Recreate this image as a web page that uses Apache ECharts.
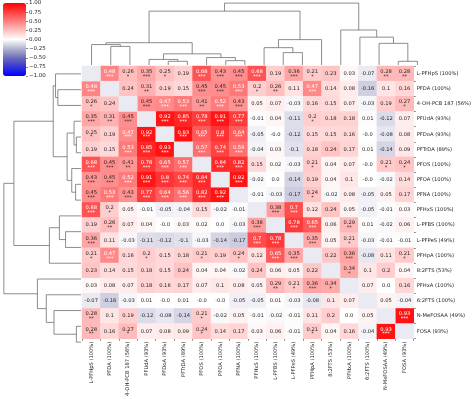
<!DOCTYPE html>
<html><head><meta charset="utf-8">
<script src="https://cdn.jsdelivr.net/npm/echarts@6/dist/echarts.min.js"></script>
<style>html,body{margin:0;padding:0;background:#fff}#c{width:474px;height:399px}</style>
</head><body><div id="c"></div>
<script>
const rowLabels = ['L-PFHpS (100%)','PFDA (100%)','4-OH-PCB 187 (56%)','PFUdA (93%)','PFDoA (93%)','PFTrDA (89%)','PFOS (100%)','PFOA (100%)','PFNA (100%)','PFHxS (100%)','L-PFBS (100%)','L-PFPeS (49%)','PFHpA (100%)','8:2FTS (53%)','PFHxA (100%)','6:2FTS (100%)','N-MeFOSAA (49%)','FOSA (93%)'];
const colLabels = rowLabels.slice();
const colorbarTicks = [-1,-0.75,-0.5,-0.25,0,0.25,0.5,0.75,1];

const rLPFHpS  = [null,0.48,0.26,0.35,0.25,0.19,0.68,0.43,0.45,0.68,0.19,0.36,0.21,0.23,0.03,-0.07,0.28,0.28];
const rPFDA    = [0.48,null,0.24,0.31,0.19,0.15,0.45,0.45,0.53,0.2,0.26,0.11,0.47,0.14,0.08,-0.16,0.1,0.16];
const rOHPCB   = [0.26,0.24,null,0.45,0.47,0.53,0.41,0.52,0.43,0.05,0.07,-0.03,0.16,0.15,0.07,-0.03,0.19,0.27];
const rPFUdA   = [0.35,0.31,0.45,null,0.92,0.85,0.78,0.91,0.77,-0.01,0.04,-0.11,0.2,0.18,0.18,0.01,-0.12,0.07];
const rPFDoA   = [0.25,0.19,0.47,0.92,null,0.93,0.65,0.8,0.64,-0.05,-0.0,-0.12,0.15,0.15,0.16,-0.0,-0.08,0.08];
const rPFTrDA  = [0.19,0.15,0.53,0.85,0.93,null,0.57,0.74,0.56,-0.04,0.03,-0.1,0.18,0.24,0.17,0.01,-0.14,0.09];
const rPFOS    = [0.68,0.45,0.41,0.78,0.65,0.57,null,0.84,0.82,0.15,0.02,-0.03,0.21,0.04,0.07,-0.0,0.21,0.24];
const rPFOA    = [0.43,0.45,0.52,0.91,0.8,0.74,0.84,null,0.92,-0.02,0.0,-0.14,0.19,0.04,0.1,-0.0,-0.02,0.14];
const rPFNA    = [0.45,0.53,0.43,0.77,0.64,0.56,0.82,0.92,null,-0.01,-0.03,-0.17,0.24,-0.02,0.08,-0.05,0.05,0.17];
const rPFHxS   = [0.68,0.2,0.05,-0.01,-0.05,-0.04,0.15,-0.02,-0.01,null,0.38,0.7,0.12,0.24,0.05,-0.05,-0.01,0.03];
const rLPFBS   = [0.19,0.26,0.07,0.04,-0.0,0.03,0.02,0.0,-0.03,0.38,null,0.78,0.65,0.06,0.29,0.01,-0.02,0.06];
const rLPFPeS  = [0.36,0.11,-0.03,-0.11,-0.12,-0.1,-0.03,-0.14,-0.17,0.7,0.78,null,0.35,0.05,0.21,-0.03,-0.01,-0.01];
const rPFHpA   = [0.21,0.47,0.16,0.2,0.15,0.18,0.21,0.19,0.24,0.12,0.65,0.35,null,0.22,0.36,-0.08,0.11,0.21];
const r82FTS   = [0.23,0.14,0.15,0.18,0.15,0.24,0.04,0.04,-0.02,0.24,0.06,0.05,0.22,null,0.34,0.1,0.2,0.04];
const rPFHxA   = [0.03,0.08,0.07,0.18,0.16,0.17,0.07,0.1,0.08,0.05,0.29,0.21,0.36,0.34,null,0.07,0.0,0.16];
const r62FTS   = [-0.07,-0.16,-0.03,0.01,-0.0,0.01,-0.0,-0.0,-0.05,-0.05,0.01,-0.03,-0.08,0.1,0.07,null,0.05,-0.04];
const rNMeFOSAA= [0.28,0.1,0.19,-0.12,-0.08,-0.14,0.21,-0.02,0.05,-0.01,-0.02,-0.01,0.11,0.2,0.0,0.05,null,0.93];
const rFOSA    = [0.28,0.16,0.27,0.07,0.08,0.09,0.24,0.14,0.17,0.03,0.06,-0.01,0.21,0.04,0.16,-0.04,0.93,null];
const corrRows = [rLPFHpS,rPFDA,rOHPCB,rPFUdA,rPFDoA,rPFTrDA,rPFOS,rPFOA,rPFNA,rPFHxS,rLPFBS,rLPFPeS,rPFHpA,r82FTS,rPFHxA,r62FTS,rNMeFOSAA,rFOSA];

// significance stars per cell (number of *)
const sLPFHpS  = '-31310333303100022';
const sPFDA    = '3-0200333120300000';
const sOHPCB   = '10-333233000000001';
const sPFUdA   = '323-33333000100000';
const sPFDoA   = '1033-3333000000000';
const sPFTrDA  = '00333-333000000000';
const sPFOS    = '332333-33000100011';
const sPFOA    = '3333333-3000000000';
const sPFNA    = '33333333-000100000';
const sPFHxS   = '310000000-33000000';
const sLPFBS   = '0200000003-3302000';
const sLPFPeS  = '30000000033-301000';
const sPFHpA   = '130100101033-03001';
const s82FTS   = '0000000000000-1000';
const sPFHxA   = '00000000002131-000';
const s62FTS   = '000000000000000-00';
const sNMeFOSAA= '2000001000000000-3';
const sFOSA    = '20100010000010003-';
const starRows = [sLPFHpS,sPFDA,sOHPCB,sPFUdA,sPFDoA,sPFTrDA,sPFOS,sPFOA,sPFNA,sPFHxS,sLPFBS,sLPFPeS,sPFHpA,s82FTS,sPFHxA,s62FTS,sNMeFOSAA,sFOSA];

// dendrogram linkage (leaf indices in display order; new node = 18 + row): [left, right, height]
const linkage = [
  [4,5,0.06],[16,17,0.06],[7,8,0.07],[3,18,0.09],[6,20,0.12],[21,22,0.18],
  [10,11,0.20],[9,24,0.28],[1,2,0.30],[0,26,0.33],[27,23,0.36],[25,12,0.41],
  [15,19,0.35],[14,30,0.45],[13,31,0.565],[28,29,0.87],[33,32,1.00]
];

const N = rowLabels.length;
const fmt = v => v === 0 ? (Object.is(v,-0) ? '-0.0' : '0.0') : String(v);

const cells = [], diag = [];
corrRows.forEach((row, i) => row.forEach((v, j) => {
  if (v === null) diag.push([j, i, 0]);
  else cells.push({value:[j, i, v], stars: Number(starRows[i][j]) || 0});
}));

const pos = [], hgt = [];
for (let i = 0; i < N; i++) { pos.push(i); hgt.push(0); }
const links = [];
linkage.forEach(([a, b, h]) => {
  links.push([pos[a], pos[b], hgt[a], hgt[b], h]);
  pos.push((pos[a] + pos[b]) / 2); hgt.push(h);
});
const maxH = Math.max(...linkage.map(l => l[2])) * 1.05;

const GL = 82, GT = 66, GW = 345, GH = 284;
const dendroColor = '#707070';

const chart = echarts.init(document.getElementById('c'), null, {renderer:'canvas'});
chart.setOption({
  animation: false,
  backgroundColor: '#fff',
  textStyle: {fontFamily: 'DejaVu Sans'},
  grid: [
    {left: GL, top: GT, width: GW, height: GH},
    {left: GL, top: 0, width: GW, height: GT - 1},
    {left: 0, top: GT, width: GL - 1, height: GH},
    {left: 3, top: 3, width: 23, height: 73}
  ],
  xAxis: [
    {gridIndex:0, type:'category', data: colLabels, position:'bottom',
     axisLine:{show:false}, axisTick:{show:true, length:2, lineStyle:{color:'#333', width:0.6}},
     axisLabel:{rotate:90, fontSize:5.2, color:'#262626', margin:3, interval:0}, splitLine:{show:false}},
    {gridIndex:1, type:'value', min:-0.5, max:N-0.5, show:false},
    {gridIndex:2, type:'value', min:0, max:maxH, inverse:true, show:false},
    {gridIndex:3, type:'category', data:[''], show:false}
  ],
  yAxis: [
    {gridIndex:0, type:'category', data: rowLabels, inverse:true, position:'right',
     axisLine:{show:false}, axisTick:{show:true, length:2, lineStyle:{color:'#333', width:0.6}},
     axisLabel:{fontSize:5.2, color:'#262626', margin:3, interval:0}, splitLine:{show:false}},
    {gridIndex:1, type:'value', min:0, max:maxH, show:false},
    {gridIndex:2, type:'value', min:-0.5, max:N-0.5, inverse:true, show:false},
    {gridIndex:3, type:'value', min:-1, max:1, interval:0.25, position:'right',
     axisLine:{show:false}, axisTick:{show:true, length:2, lineStyle:{color:'#333', width:0.6}},
     axisLabel:{fontSize:5.5, color:'#262626', margin:3,
       formatter: v => (v < 0 ? '\u2212' : '') + Math.abs(v).toFixed(2)},
     splitLine:{show:false}}
  ],
  visualMap: {
    type:'continuous', min:-1, max:1, seriesIndex:0, calculable:false,
    left:3, top:3, itemWidth:23, itemHeight:73, text:['',''], padding:0, showLabel:false,
    inRange:{color:['#0000ff','#3535d8','#6e6eb8','#b4b4d2','#ffffff','#ffc0c0','#ff8080','#ff4040','#ff0000']}
  },
  series: [
    {type:'heatmap', xAxisIndex:0, yAxisIndex:0, data: cells,
     label:{show:true, fontFamily:'DejaVu Sans',
       formatter: p => {
         const v = p.value[2], st = p.data.stars;
         const c = v >= 0.46 ? 'w' : 'd';
         return st ? `{${c}|${fmt(v)}}\n{${c}s|${'*'.repeat(st)}}` : `{${c}|${fmt(v)}}`;
       },
       rich:{
         w:{color:'#fff', fontSize:5.2, lineHeight:6},
         d:{color:'#262626', fontSize:5.2, lineHeight:6},
         ws:{color:'#fff', fontSize:5, lineHeight:4},
         ds:{color:'#262626', fontSize:5, lineHeight:4}
       }},
     itemStyle:{borderWidth:0}, emphasis:{disabled:true}},
    {type:'heatmap', xAxisIndex:0, yAxisIndex:0, data: diag,
     itemStyle:{color:'#eaeaf2'}, label:{show:false}, emphasis:{disabled:true}},
    {type:'custom', xAxisIndex:1, yAxisIndex:1, data: links, silent:true,
     encode:{x:[0,1], y:[2,3,4]},
     renderItem: (params, api) => {
       const xa = api.value(0), xb = api.value(1), ha = api.value(2), hb = api.value(3), h = api.value(4);
       return {type:'polyline', shape:{points:[api.coord([xa,ha]), api.coord([xa,h]), api.coord([xb,h]), api.coord([xb,hb])]},
               style:{stroke:dendroColor, fill:null, lineWidth:0.8}};
     }},
    {type:'custom', xAxisIndex:2, yAxisIndex:2, data: links, silent:true,
     encode:{y:[0,1], x:[2,3,4]},
     renderItem: (params, api) => {
       const ya = api.value(0), yb = api.value(1), ha = api.value(2), hb = api.value(3), h = api.value(4);
       return {type:'polyline', shape:{points:[api.coord([ha,ya]), api.coord([h,ya]), api.coord([h,yb]), api.coord([hb,yb])]},
               style:{stroke:dendroColor, fill:null, lineWidth:0.8}};
     }}
  ]
});
</script></body></html>
